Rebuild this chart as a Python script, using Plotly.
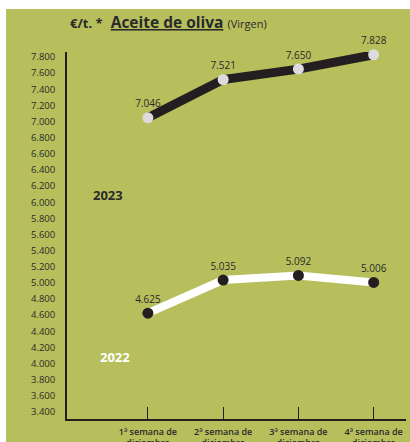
import plotly.graph_objects as go

categories = ["1ª semana de<br>diciembre", "2ª semana de<br>diciembre",
              "3ª semana de<br>diciembre", "4ª semana de<br>diciembre"]
values_2023 = [7046, 7521, 7650, 7828]
values_2022 = [4625, 5035, 5092, 5006]
tick_values = list(range(3400, 7801, 200))

GREEN = "#b6bf5c"
DARK = "#231f20"
FONT = "Open Sans"

W, H = 410, 442
L, R, T, B = 67, 4, 52, 23
pw, ph = W - L - R, H - T - B

def px_x(x):
    return (x - L) / pw

def px_y(y):
    return (H - B - y) / ph

fig = go.Figure()

fig.add_trace(go.Scatter(
    x=categories, y=values_2023, mode="lines+markers+text",
    line=dict(color=DARK, width=9),
    marker=dict(color="#dcdcdf", size=11),
    texttemplate="%{y:,.0f}", textposition="top center",
    textfont=dict(family=FONT, size=10, color="#2a2a2a"),
    cliponaxis=False, showlegend=False,
))
fig.add_trace(go.Scatter(
    x=categories, y=values_2022, mode="lines+markers+text",
    line=dict(color="white", width=8),
    marker=dict(color=DARK, size=11),
    texttemplate="%{y:,.0f}", textposition="top center",
    textfont=dict(family=FONT, size=10, color="#2a2a2a"),
    cliponaxis=False, showlegend=False,
))

fig.add_shape(type="rect", xref="paper", yref="paper",
              x0=px_x(6), x1=px_x(W + 2), y0=px_y(H + 2), y1=px_y(9),
              fillcolor=GREEN, line=dict(width=0), layer="below")

fig.add_annotation(xref="paper", yref="paper", x=px_x(68), y=px_y(22),
                   xanchor="left", yanchor="middle", showarrow=False,
                   text="<span style='font-size:13px'><b>€/t. *</b></span>  "
                        "<b><u>Aceite de oliva</u></b> "
                        "<span style='font-size:11px'>(Virgen)</span>",
                   font=dict(family=FONT, size=15.5, color="#2a2a2a"))
fig.add_annotation(xref="paper", yref="paper", x=px_x(108), y=px_y(195),
                   xanchor="center", yanchor="middle",
                   showarrow=False, text="<b>2023</b>",
                   font=dict(family=FONT, size=13, color="#2a2a2a"))
fig.add_annotation(xref="paper", yref="paper", x=px_x(115), y=px_y(357),
                   xanchor="center", yanchor="middle",
                   showarrow=False, text="<b>2022</b>",
                   font=dict(family=FONT, size=13, color="white"))

fig.update_layout(
    width=W, height=H,
    margin=dict(l=L, r=R, t=T, b=B, pad=0, autoexpand=False),
    paper_bgcolor="white", plot_bgcolor="rgba(0,0,0,0)",
    separators=",.",
    font=dict(family=FONT, color="#2a2a2a"),
)
fig.update_xaxes(
    type="category", range=[-1.075, 3.43], automargin=False,
    showline=True, linecolor=DARK, linewidth=1.5,
    ticks="inside", ticklen=12, tickwidth=1.2, tickcolor=DARK,
    showgrid=False, zeroline=False, ticklabelstandoff=3,
    tickfont=dict(family=FONT, size=9, color="#2a2a2a", weight=600),
)
fig.update_yaxes(
    range=[3313, 7862], tickvals=tick_values, tickformat=",.0f",
    automargin=False,
    showline=True, linecolor=DARK, linewidth=1.8,
    ticks="", showgrid=False, zeroline=False,
    ticklabelstandoff=8,
    tickfont=dict(family=FONT, size=9.5, color="#2a2a2a"),
)

fig.write_html("out.html",
               config={"displayModeBar": False},
               post_script="document.body.style.margin='0';"
                           "document.body.style.overflow='hidden';")
